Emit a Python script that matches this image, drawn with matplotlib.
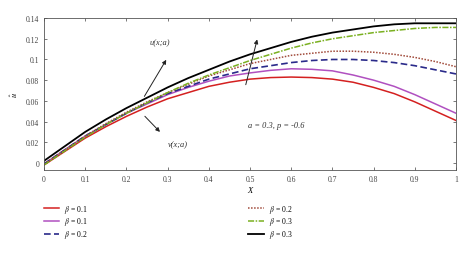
import matplotlib
matplotlib.use("Agg")
import matplotlib.pyplot as plt
import numpy as np

plt.rcParams['font.family'] = ['Liberation Serif', 'DejaVu Serif']
plt.rcParams['mathtext.fontset'] = 'stix'

x = [0.0, 0.05, 0.1, 0.15, 0.2, 0.25, 0.3, 0.35, 0.4, 0.45, 0.5,
     0.55, 0.6, 0.65, 0.7, 0.75, 0.8, 0.85, 0.9, 0.95, 1.0]

# u and v curves for the three beta values
red_b01 = [-0.002, 0.011, 0.024, 0.035, 0.045, 0.054, 0.062, 0.068, 0.074, 0.078, 0.081,
           0.0825, 0.083, 0.0825, 0.081, 0.078, 0.073, 0.067, 0.059, 0.050, 0.041]
purple_b01 = [-0.001, 0.0125, 0.026, 0.037, 0.048, 0.057, 0.066, 0.073, 0.079, 0.084, 0.087,
              0.0895, 0.091, 0.0905, 0.089, 0.085, 0.080, 0.074, 0.066, 0.057, 0.048]
blue_b02 = [-0.001, 0.0125, 0.026, 0.037, 0.048, 0.058, 0.067, 0.074, 0.081, 0.086, 0.091,
            0.094, 0.097, 0.099, 0.100, 0.100, 0.099, 0.097, 0.094, 0.090, 0.086]
brown_b02 = [-0.001, 0.0125, 0.026, 0.038, 0.049, 0.059, 0.068, 0.076, 0.084, 0.090, 0.096,
             0.100, 0.104, 0.106, 0.108, 0.108, 0.107, 0.105, 0.102, 0.098, 0.093]
green_b03 = [-0.002, 0.0115, 0.025, 0.037, 0.048, 0.058, 0.068, 0.077, 0.085, 0.092, 0.099,
             0.105, 0.111, 0.116, 0.120, 0.123, 0.126, 0.128, 0.130, 0.131, 0.131]
black_b03 = [0.002, 0.016, 0.030, 0.042, 0.053, 0.063, 0.073, 0.082, 0.090, 0.098, 0.105,
             0.111, 0.117, 0.122, 0.126, 0.129, 0.132, 0.134, 0.135, 0.135, 0.135]

labels = [r'$\beta$ = 0.1', r'$\beta$ = 0.1', r'$\beta$ = 0.2',
          r'$\beta$ = 0.2', r'$\beta$ = 0.3', r'$\beta$ = 0.3']

xticks = [0, 0.1, 0.2, 0.3, 0.4, 0.5, 0.6, 0.7, 0.8, 0.9, 1]
xticklabels = ['0', '0.1', '0.2', '0.3', '0.4', '0.5', '0.6', '0.7', '0.8', '0.9', '1']
yticks = [0, 0.02, 0.04, 0.06, 0.08, 0.1, 0.12, 0.14]
yticklabels = ['0', '0.02', '0.04', '0.06', '0.08', '0.1', '0.12', '0.14']

fig = plt.figure(figsize=(4.74, 2.55), dpi=100)
ax = fig.add_axes([0.093, 0.329, 0.869, 0.596])

h = []
h += ax.plot(x, red_b01, color='#d42020', lw=1.1)
h += ax.plot(x, purple_b01, color='#b050c0', lw=1.1)
h += ax.plot(x, blue_b02, color='#2a2a8a', lw=1.2, ls=(0, (4, 2)))
h += ax.plot(x, brown_b02, color='#a04a3a', lw=1.1, ls=(0, (1, 1)))
h += ax.plot(x, green_b03, color='#7ab020', lw=1.1, ls=(0, (4, 1, 1, 1)))
h += ax.plot(x, black_b03, color='black', lw=1.3)

ax.set_xlim(0, 1)
ax.set_ylim(-0.007, 0.14)
ax.set_xticks(xticks)
ax.set_xticklabels(xticklabels)
ax.set_yticks(yticks)
ax.set_yticklabels(yticklabels)
ax.tick_params(direction='in', top=True, right=True, labelsize=5.5, length=2.5, width=0.5, colors='#444444')
for s in ax.spines.values():
    s.set_linewidth(0.6)
    s.set_color('#555555')

ax.set_xlabel('X', fontsize=6, style='italic', labelpad=2)
ax.set_ylabel(r'$\hat{u}$', fontsize=6, labelpad=4)

arrow = dict(arrowstyle='-|>', color='#222222', lw=0.7, mutation_scale=6)
ax.annotate('', xy=(0.30, 0.102), xytext=(0.24, 0.062), arrowprops=arrow)
ax.annotate('', xy=(0.519, 0.122), xytext=(0.488, 0.073), arrowprops=arrow)
ax.annotate('', xy=(0.286, 0.028), xytext=(0.24, 0.047), arrowprops=arrow)
ax.text(0.28, 0.115, 'u(x;a)', fontsize=6, style='italic', ha='center', color='#333333')
ax.text(0.30, 0.016, 'v(x;a)', fontsize=6, style='italic', ha='left', color='#333333')
ax.text(0.495, 0.035, 'a = 0.3, p = -0.6', fontsize=6, style='italic', ha='left', color='#333333')

fig.legend(h, labels, ncol=2, loc='upper left', bbox_to_anchor=(0.078, 0.228),
           frameon=False, fontsize=5.5, handlelength=2.0, columnspacing=21,
           labelspacing=0.1, handletextpad=0.7)

fig.savefig('out.png', dpi=100)
